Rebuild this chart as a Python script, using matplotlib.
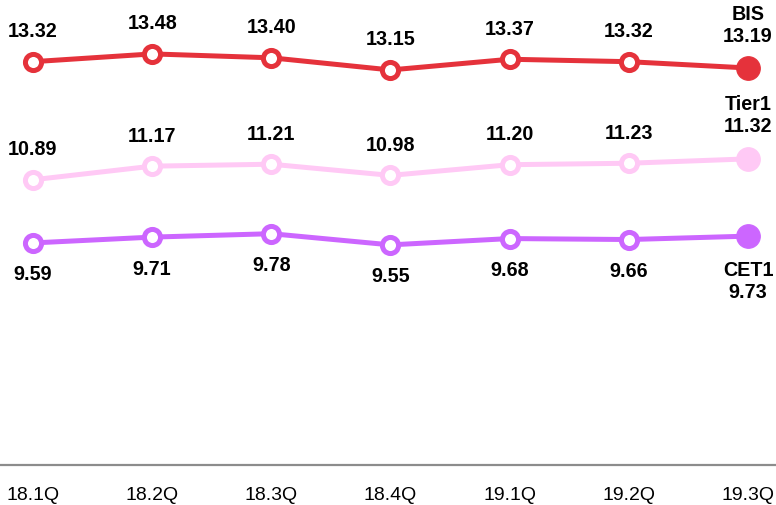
import matplotlib
matplotlib.use("Agg")
import matplotlib.pyplot as plt

quarters = ["18.1Q", "18.2Q", "18.3Q", "18.4Q", "19.1Q", "19.2Q", "19.3Q"]
bis = [13.32, 13.48, 13.40, 13.15, 13.37, 13.32, 13.19]
tier1 = [10.89, 11.17, 11.21, 10.98, 11.20, 11.23, 11.32]
cet1 = [9.59, 9.71, 9.78, 9.55, 9.68, 9.66, 9.73]

series = [
    ("BIS", bis, "#E5323B", 1),
    ("Tier1", tier1, "#FFC9F5", 1),
    ("CET1", cet1, "#CC66FF", -1),
]

fig = plt.figure(figsize=(7.76, 5.06), dpi=100)
ax = fig.add_axes([0, 40 / 506, 1, 466 / 506])
x = list(range(len(quarters)))

for name, vals, color, side in series:
    ax.plot(x, vals, color=color, lw=3.6, zorder=2, solid_capstyle="round")
    ax.plot(x[:-1], vals[:-1], ls="none", marker="o", ms=11.6, mfc="white",
            mec=color, mew=3.6, zorder=3)
    ax.plot(x[-1:], vals[-1:], ls="none", marker="o", ms=17, mfc=color,
            mec=color, mew=0.8, zorder=3)
    for i, v in enumerate(vals):
        if i < len(vals) - 1:
            txt = f"{v:.2f}"
            off = 31 * side
        else:
            txt = f"{name}\n{v:.2f}"
            off = 44 * side
        ax.annotate(txt, (i, v), xytext=(0, off), textcoords="offset pixels",
                    ha="center", va="center", fontsize=14.2, fontweight="bold",
                    family="Liberation Sans", linespacing=1.2, zorder=4,
                    annotation_clip=False)

ax.set_xlim(-33 / 119.17, 6 + 28 / 119.17)
ax.set_ylim(5.02, 14.61)
for s in ["left", "right", "top"]:
    ax.spines[s].set_visible(False)
ax.spines["bottom"].set_color("#8C8C8C")
ax.spines["bottom"].set_linewidth(1.6)
ax.set_yticks([])
ax.set_xticks(x)
ax.set_xticklabels(quarters, family="Liberation Sans", fontsize=14)
ax.tick_params(axis="x", length=0, pad=15)

fig.savefig("out.png", dpi=100)
